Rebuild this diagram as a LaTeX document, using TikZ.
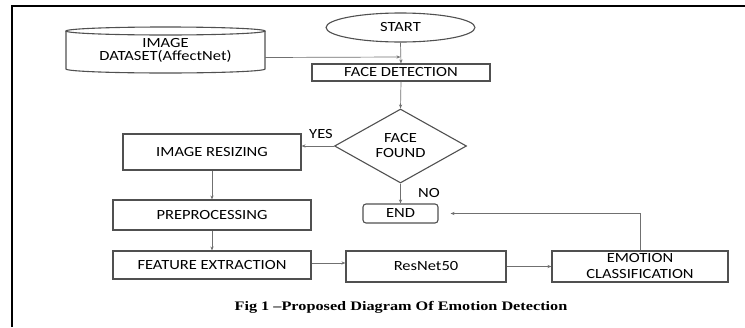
\documentclass[tikz,border=0pt]{standalone}
\usepackage{fontspec}
\usepackage{graphicx}
\setmainfont{Carlito}
\newfontfamily\capfont{Liberation Serif}
\usetikzlibrary{shapes.geometric,arrows.meta,calc}
\newcommand{\sx}[1]{\scalebox{1.18}[1]{#1}}
\definecolor{boxline}{HTML}{505050}
\definecolor{conn}{HTML}{707070}
\tikzset{
  x=1pt, y=-1pt,
  boxsty/.style={draw=boxline, line width=1.1pt, rectangle, inner sep=0pt, align=center,
     font=\fontsize{14}{15}\selectfont},
  arr/.style={draw=conn, line width=0.7pt, -{Stealth[length=4pt,width=3.2pt]}},
  lbl/.style={font=\fontsize{14}{15}\selectfont, inner sep=0pt},
}
\begin{document}
\begin{tikzpicture}
\useasboundingbox (0,0) rectangle (745,327);
% frame
\draw[line width=2.4pt, black] (12,327) -- (12,6) -- (745,6);

% start
\node[draw=boxline, line width=1.1pt, ellipse, minimum width=149pt, minimum height=29pt, inner sep=0pt,
      font=\fontsize{14}{15}\selectfont] (st) at (400.5,27.5) {\sx{START}};

% dataset cylinder
\node[inner sep=0pt, minimum width=199pt, minimum height=46pt, align=center,
      font=\fontsize{14}{12.5}\selectfont] (ds) at (165.5,50.5) {\sx{IMAGE}\\\sx{DATASET(AffectNet)}};
\draw[boxline, line width=1.1pt] (165.5,31) ellipse [x radius=99.5pt, y radius=4pt];
\draw[boxline, line width=1.1pt] (66,31) -- (66,69) arc[start angle=180, end angle=360, x radius=99.5pt, y radius=4pt] -- (265,31);

% face detection
\node[boxsty, minimum width=178pt, minimum height=17pt] (fd) at (401,72.5) {\sx{FACE DETECTION}};
\coordinate (j1) at (400.5,57);

% diamond
\node[draw=boxline, line width=1.1pt, diamond, minimum width=132pt, minimum height=72pt, inner sep=0pt,
      align=center, font=\fontsize{14}{15}\selectfont] (dm) at (400.5,146) {\sx{FACE}\\\sx{FOUND}};

% left column
\node[boxsty, minimum width=178pt, minimum height=36pt] (rs) at (212,152) {\sx{IMAGE RESIZING}};
\node[boxsty, minimum width=198pt, minimum height=30pt] (pp) at (212,215) {\sx{PREPROCESSING}};
\node[boxsty, minimum width=198pt, minimum height=28pt] (fe) at (212,265) {\sx{FEATURE EXTRACTION}};
\node[boxsty, minimum width=160pt, minimum height=31pt] (rn) at (426,266.5) {\sx{ResNet50}};
\node[boxsty, minimum width=176pt, minimum height=31pt, font=\fontsize{14}{16}\selectfont] (ec) at (640,266.5) {\sx{EMOTION}\\\sx{CLASSIFICATION}};

% end
\node[boxsty, rounded corners=3pt, minimum width=75pt, minimum height=19pt] (en) at (400.5,213.5) {\sx{END}};

% labels
\node[lbl] (yes) at (321,134) {\sx{YES}};
\node[lbl] (no) at (429,193) {\sx{NO}};

% connectors
\draw[arr] (st.south) -- (fd.north);
\draw[arr] ([yshift=-7pt]ds.east) -- (j1);
\draw[arr] (fd.south) -- (dm.north);
\draw[arr] (dm.west) -- (dm.west -| rs.east);
\draw[arr] (dm.south) -- (en.north);
\draw[arr] (rs.south) -- (pp.north);
\draw[arr] (pp.south) -- (fe.north);
\draw[arr] (fe.east |- 0,263) -- (rn.west |- 0,263);
\draw[arr] (rn.east) -- (ec.west);
\draw[arr, shorten >=12pt] (ec.north) -- (ec.north |- en.east) -- (en.east);

% caption
\node[font=\capfont\bfseries\fontsize{13}{14}\selectfont, inner sep=0pt] (cap) at (401,307)
  {\scalebox{1.25}[1]{Fig 1 –Proposed Diagram Of Emotion Detection}};
\end{tikzpicture}
\end{document}
